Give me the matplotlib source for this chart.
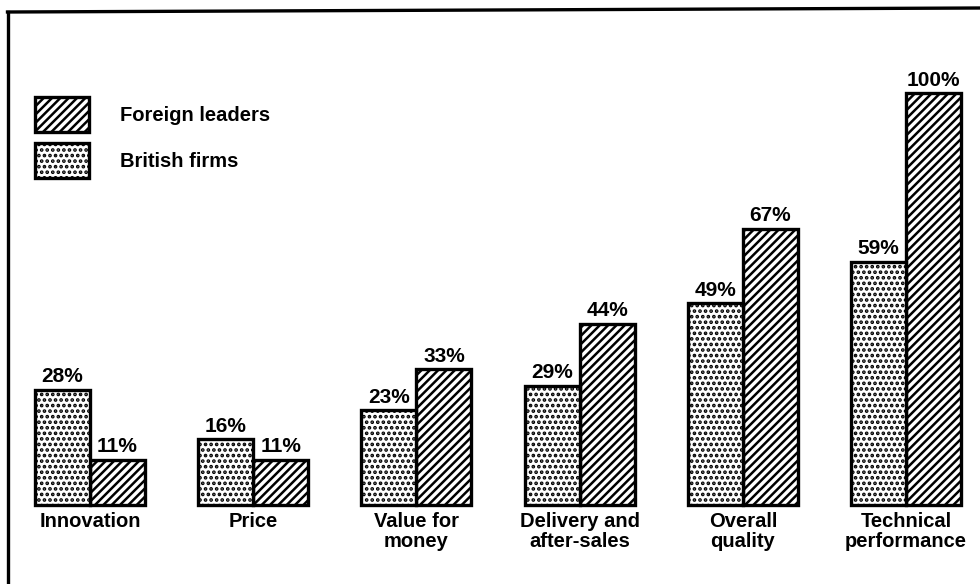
import matplotlib.pyplot as plt
from matplotlib.lines import Line2D
import numpy as np

# Values (percent)
categories = ['Innovation', 'Price', 'Value for\nmoney', 'Delivery and\nafter-sales',
              'Overall\nquality', 'Technical\nperformance']
british = [28, 16, 23, 29, 49, 59]
foreign = [11, 11, 33, 44, 67, 100]

plt.rcParams['font.family'] = ['Liberation Sans', 'DejaVu Sans']
plt.rcParams['font.weight'] = 'bold'
plt.rcParams['hatch.linewidth'] = 1.8

x = np.arange(len(categories))
width = 0.337

fig = plt.figure(figsize=(9.8, 5.84), dpi=100)
ax = fig.add_axes([0, 0, 1, 1])

fg = ax.bar(x + width / 2, foreign, width, color='white', edgecolor='black',
            hatch='////', linewidth=2.4, label='Foreign leaders')
br = ax.bar(x - width / 2, british, width, color='white', edgecolor='black',
            hatch='...', linewidth=2.4, label='British firms')

def autolabel(rects):
    for rect in rects:
        h = rect.get_height()
        ax.annotate(f'{h}%', xy=(rect.get_x() + rect.get_width() / 2, h),
                    xytext=(0, 2.5), textcoords='offset points',
                    ha='center', va='bottom', fontsize=15)

autolabel(br)
autolabel(fg)

for xi, name in zip(x, categories):
    ax.text(xi, -1.7, name, ha='center', va='top', fontsize=14.5, linespacing=1.05)

ax.set_xlim(-0.5515, 5.453)
ax.set_ylim(-19.17, 122.57)
ax.axis('off')

ax.legend(handles=[fg, br], loc='upper left', bbox_to_anchor=(35 / 980, 1 - 97 / 584),
          bbox_transform=fig.transFigure, frameon=False, fontsize=14.5,
          borderpad=0, borderaxespad=0, handlelength=2.7, handleheight=2.3,
          handletextpad=1.5, labelspacing=0.55)

# frame lines (left and top only, as in the scan)
fig.add_artist(Line2D([7.5 / 980, 7.5 / 980], [0, 1 - 12 / 584], color='black',
                      lw=2.4, transform=fig.transFigure))
fig.add_artist(Line2D([7.5 / 980, 1], [1 - 12 / 584, 1 - 8 / 584], color='black',
                      lw=2.4, transform=fig.transFigure, solid_capstyle='projecting'))

fig.savefig('out.png', dpi=100)
plt.close()
